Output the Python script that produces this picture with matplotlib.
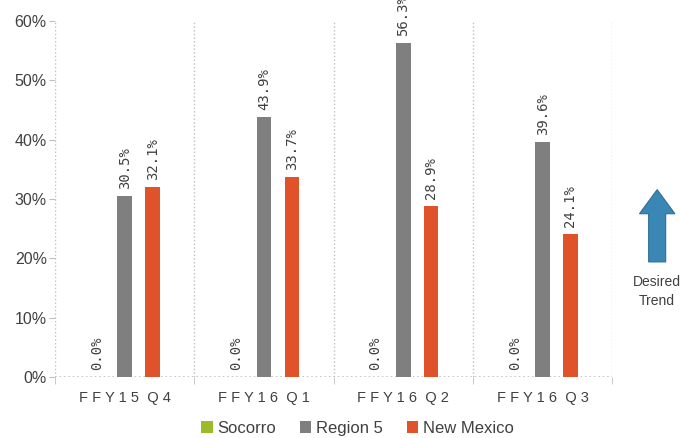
import matplotlib.pyplot as plt
import numpy as np
from matplotlib.patches import FancyArrow

categories = ["FFY15 Q4", "FFY16 Q1", "FFY16 Q2", "FFY16 Q3"]
socorro = [0.0, 0.0, 0.0, 0.0]
region5 = [30.5, 43.9, 56.3, 39.6]
new_mexico = [32.1, 33.7, 28.9, 24.1]
series_names = ["Socorro", "Region 5", "New Mexico"]
colors = ["#9BBB2C", "#7F7F7F", "#E0522A"]

plt.rcParams["font.family"] = ["Liberation Sans", "DejaVu Sans"]

fig = plt.figure(figsize=(6.81, 4.38), dpi=100)
ax = fig.add_axes([0.081, 0.139, 0.818, 0.813])

x = np.arange(len(categories))
offsets = [-0.2, 0.0, 0.2]
width = 0.105
txt_color = "#404040"

for vals, off, col, name in zip([socorro, region5, new_mexico], offsets, colors, series_names):
    bars = ax.bar(x + off, vals, width, color=col, label=name, zorder=3)
    for b, v in zip(bars, vals):
        ax.annotate(f"{v:.1f}%", (b.get_x() + b.get_width() / 2, v),
                    xytext=(0, 5), textcoords="offset points", rotation=90,
                    ha="center", va="bottom", fontsize=10, color=txt_color,
                    family="DejaVu Sans Mono", annotation_clip=False)

ax.set_xlim(-0.5, 3.5)
ax.set_ylim(0, 60)
ax.set_yticks(range(0, 61, 10))
ax.set_yticklabels([f"{t}%" for t in range(0, 61, 10)], fontsize=11.5, color=txt_color)

for s in ["top", "right", "bottom", "left"]:
    ax.spines[s].set_visible(False)
for b in [-0.5, 0.5, 1.5, 2.5, 3.5]:
    ax.axvline(b, color="#BFBFBF", linestyle=":", linewidth=1, zorder=1)
ax.axhline(0, color="#BFBFBF", linestyle=":", linewidth=1.2, zorder=2)

ax.set_xticks(x)
ax.set_xticklabels(["  ".join(" ".join(w) for w in c.split()) for c in categories],
                   fontsize=10.5, color=txt_color)
ax.tick_params(axis="x", length=0, pad=10)
ax.tick_params(axis="y", length=4, color="#BFBFBF", pad=2)
# small ticks at group boundaries
ax.set_xticks([-0.5, 0.5, 1.5, 2.5, 3.5], minor=True)
ax.tick_params(axis="x", which="minor", length=5, color="#BFBFBF")

leg = fig.legend(loc="lower center", bbox_to_anchor=(0.525, -0.03), ncol=3,
                 frameon=False, fontsize=12, handlelength=0.7, handleheight=0.7,
                 handletextpad=0.3, columnspacing=1.4)
for t in leg.get_texts():
    t.set_color(txt_color)

# Desired trend arrow
fig.patches.append(FancyArrow(0.965, 0.402, 0, 0.165, width=0.025,
                              head_width=0.052, head_length=0.055,
                              length_includes_head=True, transform=fig.transFigure,
                              facecolor="#3A86B4", edgecolor="#2F6F96", linewidth=0.8))
fig.text(0.965, 0.335, "Desired\nTrend", ha="center", va="center", fontsize=10,
         color=txt_color, linespacing=1.5)

fig.savefig("out.png", dpi=100)
